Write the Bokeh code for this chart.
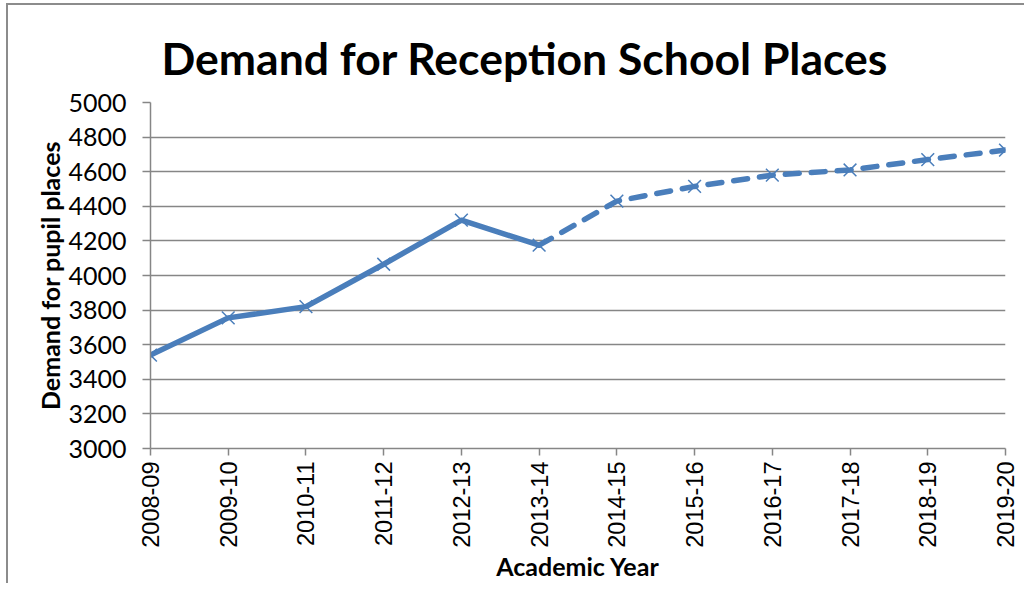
import math
from bokeh.plotting import figure
from bokeh.models import FixedTicker, Range1d, Title
from bokeh.embed import file_html
from bokeh.resources import INLINE

years = ["2008-09", "2009-10", "2010-11", "2011-12", "2012-13", "2013-14",
         "2014-15", "2015-16", "2016-17", "2017-18", "2018-19", "2019-20"]
demand = [3540, 3755, 3820, 4065, 4320, 4175, 4430, 4515, 4580, 4610, 4670, 4725]
last_actual = 5  # 2013-14 is the last actual year; projections follow
y_ticks = list(range(3000, 5001, 200))

BLUE = "#4A7EBB"
GREY = "#868686"

xs = list(range(len(years)))

p = figure(width=1024, height=583, output_backend="svg", toolbar_location=None,
           x_range=Range1d(0, len(years) - 1), y_range=Range1d(3000, 5000),
           min_border_left=150, min_border_right=19, min_border_top=102,
           min_border_bottom=134)

p.title = Title(text="Demand for Reception School Places", text_font="Lato",
                text_font_size="44.5px", text_font_style="bold", text_color="black",
                align="left", offset=11, standoff=38)

p.outline_line_color = None
p.background_fill_color = "white"
p.border_fill_color = None

# outer chart border (drawn as the element's background behind a transparent border fill)
p.styles = {
    "background-color": "white",
    "background-image": "linear-gradient(#8c8c8c, #8c8c8c), linear-gradient(#8c8c8c, #8c8c8c)",
    "background-size": "2px 100%, 100% 2px",
    "background-position": "6px 3px, 6px 3px",
    "background-repeat": "no-repeat",
}

# grid
p.xgrid.visible = False
p.ygrid.grid_line_color = GREY
p.ygrid.grid_line_width = 1.5
p.ygrid.ticker = FixedTicker(ticks=y_ticks)

# y axis
p.yaxis.ticker = FixedTicker(ticks=y_ticks)
p.yaxis.axis_line_color = GREY
p.yaxis.axis_line_width = 1.5
p.yaxis.major_tick_line_color = GREY
p.yaxis.major_tick_line_width = 1.5
p.yaxis.major_tick_out = 8
p.yaxis.major_tick_in = 0
p.yaxis.minor_tick_line_color = None
p.yaxis.major_label_text_font = "Lato"
p.yaxis.major_label_text_font_size = "25px"
p.yaxis.major_label_text_color = "black"
p.yaxis.major_label_standoff = 16
p.yaxis.axis_label = "Demand for pupil places"
p.yaxis.axis_label_text_font = "Lato"
p.yaxis.axis_label_text_font_style = "bold"
p.yaxis.axis_label_text_font_size = "25px"
p.yaxis.axis_label_text_color = "black"
p.yaxis.axis_label_standoff = 0

# x axis
p.xaxis.ticker = FixedTicker(ticks=xs)
p.xaxis.major_label_overrides = {i: y for i, y in enumerate(years)}
p.xaxis.major_label_orientation = math.pi / 2
p.xaxis.axis_line_color = GREY
p.xaxis.axis_line_width = 1.5
p.xaxis.major_tick_line_color = GREY
p.xaxis.major_tick_line_width = 1.5
p.xaxis.major_tick_out = 7
p.xaxis.major_tick_in = 0
p.xaxis.minor_tick_line_color = None
p.xaxis.major_label_text_font = "Liberation Sans"
p.xaxis.major_label_text_font_size = "23.5px"
p.xaxis.major_label_text_color = "black"
p.xaxis.major_label_standoff = 6
p.xaxis.axis_label = "Academic Year"
p.xaxis.axis_label_text_font = "Lato"
p.xaxis.axis_label_text_font_style = "bold"
p.xaxis.axis_label_text_font_size = "25px"
p.xaxis.axis_label_text_color = "black"
p.xaxis.axis_label_standoff = 0

# actual (solid) and projected (dashed)
p.line(xs[:last_actual + 1], demand[:last_actual + 1], line_color=BLUE,
       line_width=5.5, line_join="round", line_cap="round")
p.line(xs[last_actual:], demand[last_actual:], line_color=BLUE, line_width=5.5,
       line_dash="14 12", line_cap="round", line_join="round")
p.scatter(xs, demand, marker="x", size=18, line_color=BLUE, line_width=1.5)

open("out.html", "w").write(file_html(p, INLINE))
